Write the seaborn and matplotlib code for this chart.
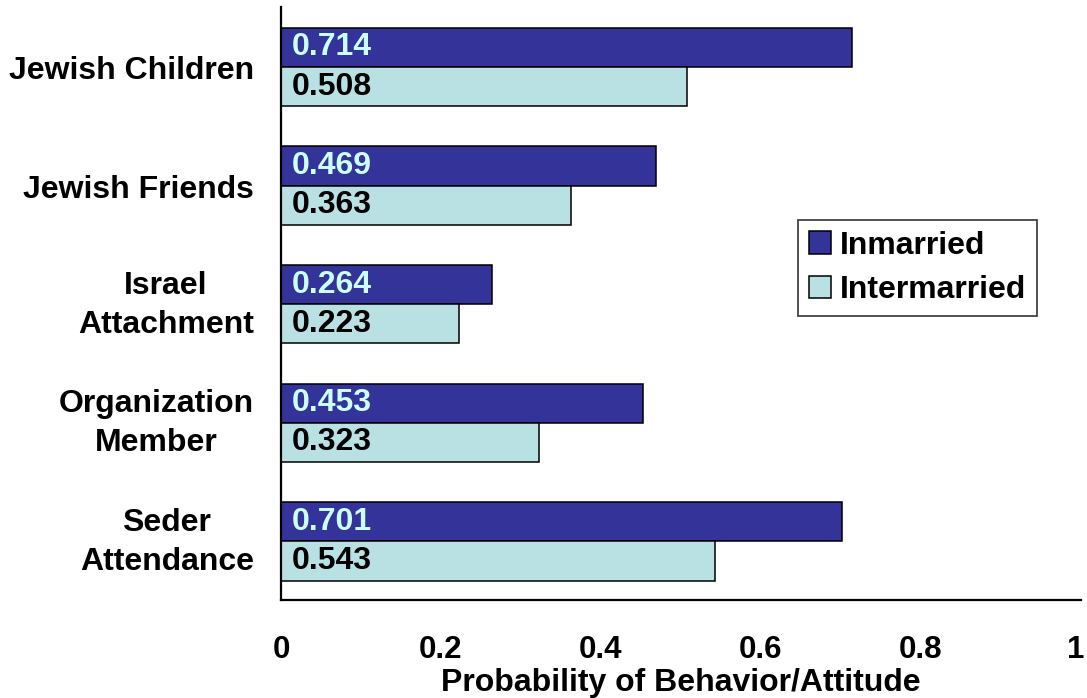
import matplotlib
matplotlib.use("Agg")
import matplotlib.pyplot as plt
import matplotlib.transforms as mtransforms
import pandas as pd
import seaborn as sns
from matplotlib.patches import Patch

categories = ["Jewish Children", "Jewish Friends", "Israel\nAttachment",
              "Organization\nMember", "Seder\nAttendance"]
inmarried = [0.714, 0.469, 0.264, 0.453, 0.701]
intermarried = [0.508, 0.363, 0.223, 0.323, 0.543]
groups = ["Inmarried", "Intermarried"]
x_ticks = [0, 0.2, 0.4, 0.6, 0.8, 1]
x_tick_labels = ["0", "0.2", "0.4", "0.6", "0.8", "1"]

df = pd.DataFrame({
    "category": categories * 2,
    "value": inmarried + intermarried,
    "group": [groups[0]] * len(categories) + [groups[1]] * len(categories),
})

sns.set_theme(style="white")
plt.rcParams["font.family"] = ["Liberation Sans", "DejaVu Sans"]
plt.rcParams["font.weight"] = "bold"
for key in ["text.color", "axes.labelcolor", "xtick.color", "ytick.color"]:
    plt.rcParams[key] = "black"

FS = 23
palette = {"Inmarried": "#333399", "Intermarried": "#B9E0E3"}
label_colors = {"Inmarried": "#CCFFFF", "Intermarried": "#000000"}

fig = plt.figure(figsize=(10.87, 6.98), dpi=100)
W, H = 1087, 698
ax = fig.add_axes([281 / W, (H - 600) / H, 800 / W, 593 / H])

sns.barplot(data=df, y="category", x="value", hue="group", order=categories,
            hue_order=groups, palette=palette, orient="h", width=0.66,
            edgecolor="black", linewidth=1.1, saturation=1, legend=False, ax=ax)

ax.set_xlim(0, 1)
ax.set_ylim(4.494, -0.506)

# value labels just inside the left end of each bar
for container, grp in zip(ax.containers, groups):
    vals = inmarried if grp == "Inmarried" else intermarried
    for bar, v in zip(container, vals):
        cy = bar.get_y() + bar.get_height() / 2
        ax.text(0.013, cy, f"{v:.3f}", ha="left", va="center", fontsize=FS,
                fontweight="bold", color=label_colors[grp])

# x axis ticks
ax.set_xticks(x_ticks)
ax.set_xticklabels(x_tick_labels, fontsize=FS - 0.5, fontweight="bold")
ax.tick_params(axis="x", length=0, pad=25.5)
last = ax.get_xticklabels()[-1]
last.set_transform(last.get_transform() +
                   mtransforms.ScaledTranslation(-4 / 72, 0, fig.dpi_scale_trans))

# category labels, centred between their lines
ax.set_yticks(range(len(categories)))
ax.set_yticklabels([])
ax.tick_params(axis="y", length=0)
for i, cat in enumerate(categories):
    dy = -0.7 if "\n" in cat else -2.9
    ax.annotate(cat, xy=(0, i), xycoords=("axes fraction", "data"),
                xytext=(-19.5, dy), textcoords="offset points",
                ha="right", va="center", multialignment="center",
                linespacing=1.4, fontsize=FS, fontweight="bold")

ax.set_ylabel("")
ax.set_xlabel("Probability of Behavior/Attitude", fontsize=FS,
              fontweight="bold", labelpad=2)

for side in ["top", "right"]:
    ax.spines[side].set_visible(False)
for side in ["left", "bottom"]:
    ax.spines[side].set_color("black")
    ax.spines[side].set_linewidth(1.6)

handles = [Patch(facecolor=palette[g], edgecolor="black", linewidth=1.1, label=g)
           for g in groups]
leg = fig.legend(handles=handles, loc="upper left",
                 bbox_to_anchor=(798 / W, 1 - 220 / H), fontsize=FS,
                 frameon=True, fancybox=False, handlelength=0.7,
                 handleheight=0.7, handletextpad=0.28, borderpad=0.33,
                 labelspacing=0.46, borderaxespad=0)
leg.get_frame().set_edgecolor("black")
leg.get_frame().set_linewidth(1.2)
for t in leg.get_texts():
    t.set_fontweight("bold")

fig.savefig("out.png", dpi=100)
